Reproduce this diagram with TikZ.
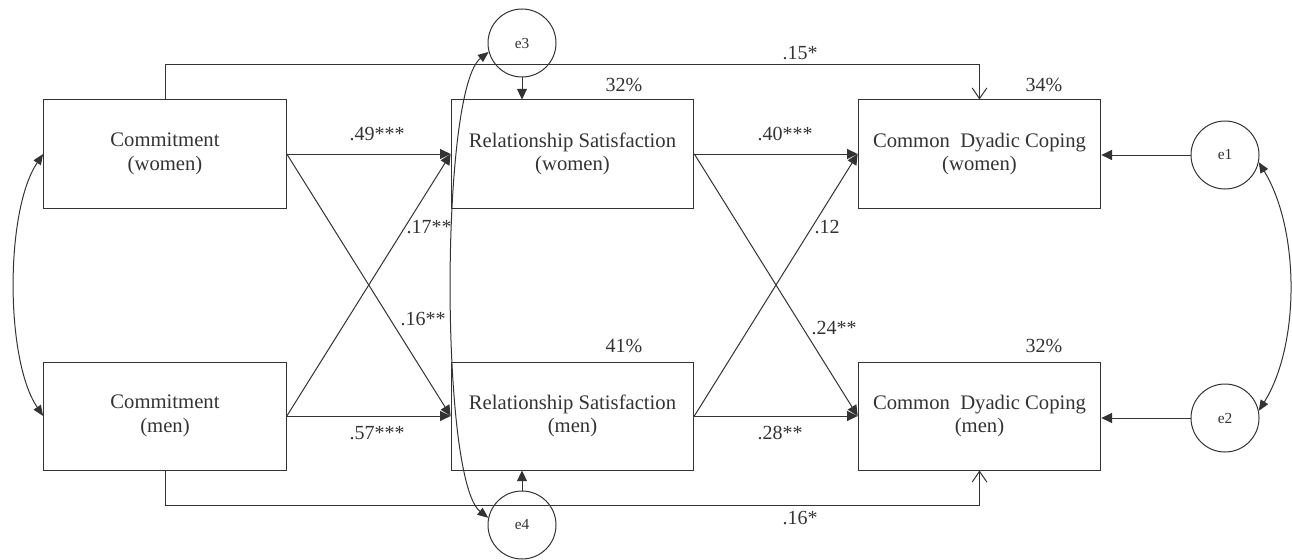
\documentclass[tikz,border=0pt]{standalone}
\usepackage{fontspec}
\setmainfont{Liberation Serif}
\usetikzlibrary{arrows.meta}

\definecolor{ink}{HTML}{333333}

\tikzset{every picture/.style={line width=0.75pt}}
\tikzset{
  varbox/.style={draw=ink, text=ink, minimum width=182pt, minimum height=81pt, inner sep=0pt, align=center, font=\fontsize{15.5}{17.5}\selectfont},
  errcirc/.style={draw=ink, text=ink, circle, minimum size=51pt, inner sep=0pt, font=\fontsize{11.5}{13}\selectfont},
  coef/.style={text=ink, inner sep=0.75pt, font=\fontsize{15}{17}\selectfont},
  reg/.style={draw=ink, -{Triangle[length=8pt,width=7.5pt]}},
  fixedarr/.style={draw=ink, -{Straight Barb[length=8pt,width=11pt]}},
  cov/.style={draw=ink, {Triangle[length=8pt,width=6.5pt]}-{Triangle[length=8pt,width=6.5pt]}}
}

\begin{document}
\begin{tikzpicture}[x=0.75pt,y=0.75pt,yscale=-1,xscale=1]
    \useasboundingbox (0,0) rectangle (1292,560);

    %Shape: Rectangles (observed variables)
    \node [varbox] (cw) at (165,154) {Commitment\\(women)};
    \node [varbox] (cm) at (165,416) {Commitment\\(men)};
    \node [varbox] (rw) at (572.5,154) {Relationship Satisfaction\\(women)};
    \node [varbox] (rm) at (572.5,416) {Relationship Satisfaction\\(men)};
    \node [varbox] (dw) at (979.5,154) {Common\ \ Dyadic Coping\\(women)};
    \node [varbox] (dm) at (979.5,416) {Common\ \ Dyadic Coping\\(men)};

    %Shape: Circles (errors)
    \node [errcirc] (e3) at (522,43) {e3};
    \node [errcirc] (e4) at (522,525) {e4};
    \node [errcirc] (e1) at (1225,155) {e1};
    \node [errcirc] (e2) at (1225,418) {e2};

    % Paths
    \draw [reg] (cw.east) -- (rw.west);
    \draw [reg] (cw.east) -- (rm.west);
    \draw [reg] (cm.east) -- (rw.west);
    \draw [reg] (cm.east) -- (rm.west);
    \draw [reg] (rw.east) -- (dw.west);
    \draw [reg] (rw.east) -- (dm.west);
    \draw [reg] (rm.east) -- (dw.west);
    \draw [reg] (rm.east) -- (dm.west);
    \draw [fixedarr] (cw.north) -- ++(0,-35) -| (dw.north);
    \draw [fixedarr] (cm.south) -- ++(0,35) -| (dm.south);

    % Error paths
    \draw [reg] (e3.south) -- (e3 |- rw.north);
    \draw [reg] (e4.north) -- (e4 |- rm.south);
    \draw [reg] (e1.west) -- (e1 -| dw.east);
    \draw [reg] (e2.west) -- (e2 -| dm.east);

    % Covariances
    \draw [cov] (cw.west) .. controls (5,210) and (5,360) .. (cm.west);
    \draw [cov] (e3.195) .. controls (440,90) and (440,480) .. (e4.168);
    \draw [cov] (e1.-12) .. controls (1300,230) and (1300,345) .. (e2.12);

    % Text Node
    \node [coef] (b1) at (377,134) {.49***};
    \node [coef] (b2) at (429,227) {.17**};
    \node [coef] (b3) at (423,319) {.16**};
    \node [coef] (b4) at (377,433) {.57***};
    \node [coef] (b5) at (785,134) {.40***};
    \node [coef] (b6) at (827,227) {.12};
    \node [coef] (b7) at (834,328) {.24**};
    \node [coef] (b8) at (780,433) {.28**};
    \node [coef] (b9) at (800,53) {.15*};
    \node [coef] (b10) at (800,518) {.16*};
    % Text Node
    \node [coef] (r1) at (624,85) {32\%};
    \node [coef] (r2) at (624,346) {41\%};
    \node [coef] (r3) at (1044,85) {34\%};
    \node [coef] (r4) at (1044,346) {32\%};

\end{tikzpicture}
\end{document}
